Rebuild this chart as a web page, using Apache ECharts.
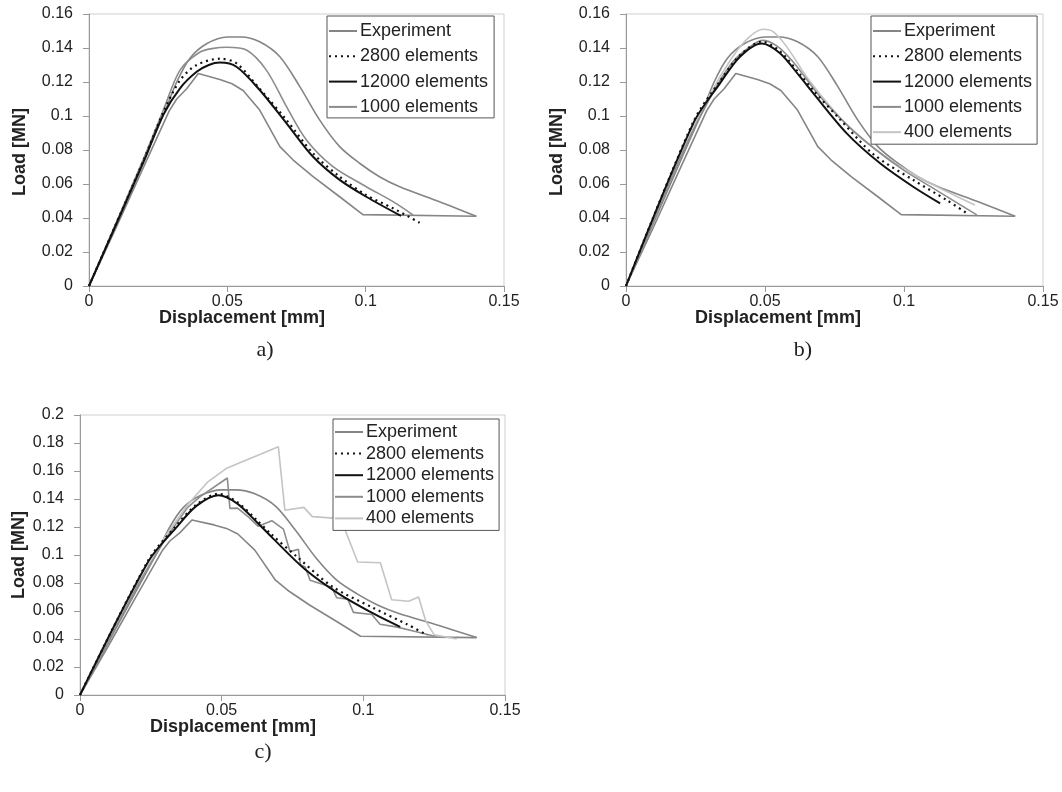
<!DOCTYPE html>
<html>
<head>
<meta charset="utf-8">
<script src="https://cdn.jsdelivr.net/npm/echarts@6/dist/echarts.min.js"></script>
<style>
html,body{margin:0;padding:0;background:#fff;}
#c{width:1062px;height:792px;}
</style>
</head>
<body>
<div id="c"></div>
<script>
// ---------- data (Displacement [mm], Load [MN]) ----------
const xTicks = [0, 0.05, 0.1, 0.15];
const yTicksAB = [0, 0.02, 0.04, 0.06, 0.08, 0.1, 0.12, 0.14, 0.16];
const yTicksC = [0, 0.02, 0.04, 0.06, 0.08, 0.1, 0.12, 0.14, 0.16, 0.18, 0.2];

const seriesNames = ['Experiment', '2800 elements', '12000 elements', '1000 elements', '400 elements'];
const panelLabels = ['a)', 'b)', 'c)'];

// Experiment: upper and lower bound curves (same in all panels)
const expUpper = [[0,0],[0.02,0.075],[0.027,0.101],[0.0317,0.12],[0.0365,0.134],[0.0425,0.1425],[0.05,0.1465],[0.055,0.1465],[0.0617,0.1437],[0.069,0.1349],[0.0762,0.1173],[0.0834,0.0976],[0.0906,0.082],[0.0978,0.0722],[0.105,0.0643],[0.1123,0.0584],[0.1267,0.0496],[0.14,0.041]];
const expLower = [[0,0],[0.01,0.035],[0.02,0.071],[0.029,0.103],[0.0317,0.11],[0.0353,0.116],[0.0395,0.125],[0.0473,0.1215],[0.0517,0.119],[0.0557,0.115],[0.0617,0.1035],[0.069,0.082],[0.0738,0.0741],[0.081,0.0643],[0.0906,0.0525],[0.099,0.042],[0.14,0.041]];

// panel a
const a1000 = [[0,0],[0.02,0.076],[0.027,0.104],[0.0329,0.127],[0.04,0.1375],[0.045,0.1398],[0.0497,0.1404],[0.0569,0.1388],[0.0641,0.127],[0.0714,0.1055],[0.0786,0.0859],[0.0882,0.0702],[0.1002,0.0584],[0.1099,0.0496],[0.1171,0.0418]];
const a12000 = [[0,0],[0.02,0.074],[0.0268,0.1005],[0.0329,0.1163],[0.0389,0.126],[0.0433,0.13],[0.0473,0.1314],[0.0533,0.129],[0.0617,0.1153],[0.0714,0.0957],[0.081,0.076],[0.0906,0.0624],[0.1002,0.0525],[0.1128,0.0412]];
const a2800 = [[0,0],[0.02,0.075],[0.0268,0.102],[0.0329,0.121],[0.0389,0.13],[0.0473,0.1337],[0.0533,0.131],[0.0617,0.116],[0.0714,0.0976],[0.081,0.078],[0.0906,0.0643],[0.1002,0.0535],[0.1099,0.0457],[0.1195,0.0372]];

// panel b (12000 and 2800 also used in panel c)
const b12000 = [[0,0],[0.0242,0.0957],[0.0338,0.1192],[0.041,0.1349],[0.0488,0.1427],[0.0554,0.1369],[0.0626,0.1231],[0.0674,0.1133],[0.0794,0.0898],[0.0914,0.0722],[0.1033,0.0584],[0.113,0.0486]];
const b2800 = [[0,0],[0.0242,0.0965],[0.0338,0.1205],[0.041,0.1358],[0.0488,0.1437],[0.0554,0.138],[0.0626,0.1245],[0.0674,0.115],[0.077,0.098],[0.089,0.0775],[0.1033,0.0624],[0.1154,0.0505],[0.1226,0.0428]];
const b1000 = [[0,0],[0.02,0.077],[0.03,0.11],[0.038,0.131],[0.044,0.14],[0.049,0.1445],[0.054,0.1415],[0.06,0.132],[0.07,0.111],[0.08,0.094],[0.09,0.08],[0.1,0.068],[0.11,0.058],[0.1262,0.0418]];
const b400 = [[0,0],[0.02,0.078],[0.03,0.112],[0.038,0.134],[0.044,0.146],[0.0494,0.151],[0.053,0.1495],[0.0578,0.1408],[0.065,0.123],[0.0746,0.1035],[0.083,0.089],[0.0926,0.077],[0.1022,0.067],[0.113,0.0575],[0.1255,0.0476]];

// panel c
const c1000 = [[0,0],[0.01,0.038],[0.02,0.077],[0.03,0.111],[0.038,0.134],[0.0424,0.1417],[0.052,0.155],[0.0529,0.1333],[0.0556,0.1335],[0.0595,0.127],[0.0629,0.1205],[0.0677,0.1245],[0.0718,0.1185],[0.0741,0.1025],[0.0771,0.104],[0.0778,0.093],[0.0795,0.0915],[0.0812,0.082],[0.0888,0.077],[0.0906,0.0695],[0.0945,0.0685],[0.0965,0.059],[0.103,0.0575],[0.1059,0.0505],[0.112,0.0485],[0.118,0.0455],[0.1255,0.0418]];
const c400 = [[0,0],[0.01,0.039],[0.02,0.078],[0.03,0.113],[0.038,0.136],[0.045,0.152],[0.0518,0.162],[0.06,0.169],[0.0624,0.1709],[0.07,0.1774],[0.0723,0.132],[0.079,0.134],[0.082,0.1274],[0.092,0.126],[0.098,0.095],[0.106,0.0945],[0.11,0.068],[0.116,0.067],[0.1195,0.07],[0.122,0.053],[0.125,0.043],[0.133,0.04]];

// ---------- styles ----------
const FONT = 'Liberation Sans, Arial, Helvetica, sans-serif';
const styles = {
  'Experiment':     {color:'#858585', width:1.6, type:'solid'},
  '2800 elements':  {color:'#111111', width:2.2, type:[2,4]},
  '12000 elements': {color:'#111111', width:2.0, type:'solid'},
  '1000 elements':  {color:'#8c8c8c', width:1.6, type:'solid'},
  '400 elements':   {color:'#c4c4c4', width:1.6, type:'solid'}
};
function line(name, data, idx, smooth) {
  const s = styles[name];
  return {
    type:'line', name:name, data:data, xAxisIndex:idx, yAxisIndex:idx,
    symbol:'none', smooth:smooth || false, animation:false, silent:true,
    lineStyle:{color:s.color, width:s.width, type:s.type},
    itemStyle:{color:s.color}
  };
}

const grids = [
  {left:89, top:14, width:415, height:272},
  {left:626, top:14, width:417, height:272},
  {left:80, top:415, width:425, height:280}
];
function xAx(i){
  return {type:'value', gridIndex:i, min:xTicks[0], max:xTicks[xTicks.length-1], interval:xTicks[1]-xTicks[0],
    axisLine:{show:true, lineStyle:{color:'#999', width:1}},
    axisTick:{show:true, length:6, lineStyle:{color:'#999'}},
    splitLine:{show:false},
    axisLabel:{color:'#222', fontSize:16, fontFamily:FONT, margin:8}};
}
function yAx(i, ticks){
  return {type:'value', gridIndex:i, min:ticks[0], max:ticks[ticks.length-1], interval:ticks[1]-ticks[0],
    axisLine:{show:true, lineStyle:{color:'#999', width:1}},
    axisTick:{show:true, length:6, lineStyle:{color:'#999'}},
    splitLine:{show:false},
    axisLabel:{color:'#222', fontSize:16, fontFamily:FONT, margin:16}};
}
function legend(names, left, top, gap, pad){
  return {show:true, orient:'vertical', left:left, top:top, data:names,
    itemWidth:28, itemHeight:12, itemGap:gap, padding:pad,
    backgroundColor:'#fff', borderColor:'#555', borderWidth:1, borderRadius:0,
    selectedMode:false,
    itemStyle:{opacity:0},
    textStyle:{color:'#222', fontSize:18, fontFamily:FONT, lineHeight:18, padding:[0,0,0,-2]}};
}
function txt(x, y, text, opts){
  return {type:'text', x:x, y:y, silent:true,
    style:Object.assign({text:text, fill:'#222', textAlign:'center', textVerticalAlign:'middle'}, opts)};
}
function rtxt(x, y, text, opts){
  return {type:'text', x:x, y:y, rotation:Math.PI/2, silent:true,
    style:Object.assign({text:text, fill:'#222', textAlign:'center', textVerticalAlign:'middle'}, opts)};
}
const boldT = {font:'bold 18px ' + FONT};
const serifT = {font:'22px Liberation Serif, DejaVu Serif, serif'};
const SM = 0.3;

const option = {
  backgroundColor:'#fff',
  animation:false,
  grid: grids.map(g => Object.assign({show:true, borderColor:'#cfcfcf', borderWidth:1, backgroundColor:'transparent'}, g)),
  xAxis:[xAx(0), xAx(1), xAx(2)],
  yAxis:[yAx(0, yTicksAB), yAx(1, yTicksAB), yAx(2, yTicksC)],
  legend:[
    legend(seriesNames.slice(0,4), 327, 16, 7.3, [6,6,2,1]),
    legend(seriesNames, 871, 16, 7.3, [6,5,3,1]),
    legend(seriesNames, 333, 419, 3.6, [4,5,3,1])
  ],
  series:[
    line('Experiment', expUpper, 0, SM), line('Experiment', expLower, 0),
    line('1000 elements', a1000, 0, SM), line('2800 elements', a2800, 0, SM), line('12000 elements', a12000, 0, SM),

    line('Experiment', expUpper, 1, SM), line('Experiment', expLower, 1),
    line('400 elements', b400, 1, SM), line('1000 elements', b1000, 1, SM),
    line('2800 elements', b2800, 1, SM), line('12000 elements', b12000, 1, SM),

    line('Experiment', expUpper, 2, SM), line('Experiment', expLower, 2),
    line('400 elements', c400, 2), line('1000 elements', c1000, 2),
    line('2800 elements', b2800, 2, SM), line('12000 elements', b12000, 2, SM)
  ],
  graphic:[
    rtxt(20, 152, 'Load [MN]', boldT),
    rtxt(557, 152, 'Load [MN]', boldT),
    rtxt(19, 555, 'Load [MN]', boldT),
    txt(242, 318, 'Displacement [mm]', boldT),
    txt(778, 318, 'Displacement [mm]', boldT),
    txt(233, 727, 'Displacement [mm]', boldT),
    txt(265, 350, panelLabels[0], serifT),
    txt(803, 350, panelLabels[1], serifT),
    txt(263, 752, panelLabels[2], serifT)
  ]
};
const chart = echarts.init(document.getElementById('c'), null, {renderer:'canvas'});
chart.setOption(option);
</script>
</body>
</html>
